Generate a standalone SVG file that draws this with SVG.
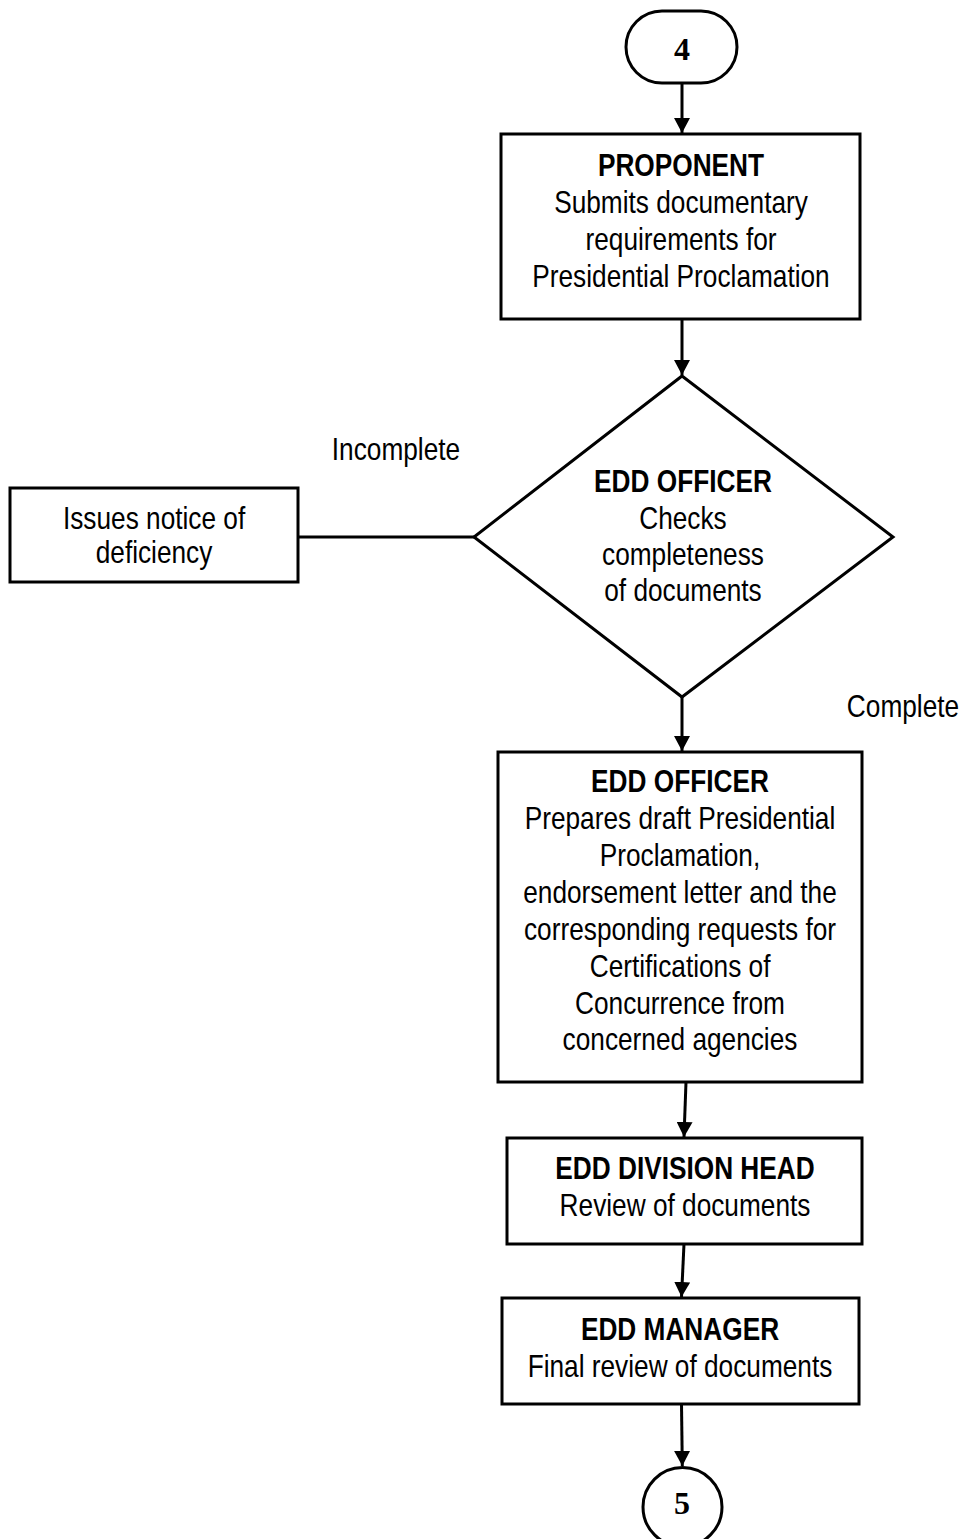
<svg xmlns="http://www.w3.org/2000/svg" width="964" height="1539" viewBox="0 0 964 1539">
  <style>
    .shape { fill: #fff; stroke: #000; stroke-width: 3; }
    .wire { fill: none; stroke: #000; stroke-width: 3; }
    text { font-family: 'Liberation Sans', Arial, sans-serif; font-size: 32px; fill: #000; text-anchor: middle; }
    /* narrow sans: squeeze each line horizontally about its own centre */
    .t { transform-box: fill-box; transform-origin: center; transform: scaleX(0.82); }
    .b { font-weight: bold; }
    .num { font-family: 'Liberation Serif', 'Times New Roman', serif; font-weight: bold; }
  </style>
  <defs>
    <marker id="arrow" markerUnits="userSpaceOnUse" markerWidth="16" markerHeight="16" refX="15" refY="8" orient="auto">
      <path d="M0,0 L15,8 L0,16 z" fill="#000"/>
    </marker>
  </defs>

  <g id="connectors">
    <line class="wire" x1="682" y1="83" x2="682" y2="133" marker-end="url(#arrow)"/>
    <line class="wire" x1="682" y1="319" x2="682" y2="375" marker-end="url(#arrow)"/>
    <line class="wire" x1="298" y1="537" x2="474" y2="537"/>
    <line class="wire" x1="682" y1="697" x2="682" y2="751" marker-end="url(#arrow)"/>
    <line class="wire" x1="686" y1="1082" x2="684" y2="1137" marker-end="url(#arrow)"/>
    <line class="wire" x1="684" y1="1244" x2="681.5" y2="1297" marker-end="url(#arrow)"/>
    <line class="wire" x1="681.5" y1="1404" x2="682.3" y2="1466" marker-end="url(#arrow)"/>
  </g>

  <g id="start-4">
    <rect class="shape" x="626" y="11" width="111" height="72" rx="36" ry="36"/>
    <text class="num" x="682" y="60" font-size="35">4</text>
  </g>

  <g id="proponent">
    <rect class="shape" x="501" y="134" width="359" height="185"/>
    <text class="t b" x="681" y="176">PROPONENT</text>
    <text class="t" x="681" y="213">Submits documentary</text>
    <text class="t" x="681" y="250">requirements for</text>
    <text class="t" x="681" y="287">Presidential Proclamation</text>
  </g>

  <g id="check-decision">
    <polygon class="shape" points="682,376 893,537 682,697 474,537"/>
    <text class="t b" x="683" y="492">EDD OFFICER</text>
    <text class="t" x="683" y="529">Checks</text>
    <text class="t" x="683" y="565">completeness</text>
    <text class="t" x="683" y="601">of documents</text>
  </g>

  <g id="labels">
    <text class="t" x="396" y="460">Incomplete</text>
    <text class="t" x="903" y="717">Complete</text>
  </g>

  <g id="deficiency">
    <rect class="shape" x="10" y="488" width="288" height="94"/>
    <text class="t" x="154" y="529">Issues notice of</text>
    <text class="t" x="154" y="563">deficiency</text>
  </g>

  <g id="draft">
    <rect class="shape" x="498" y="752" width="364" height="330"/>
    <text class="t b" x="680" y="792">EDD OFFICER</text>
    <text class="t" x="680" y="829">Prepares draft Presidential</text>
    <text class="t" x="680" y="866">Proclamation,</text>
    <text class="t" x="680" y="903">endorsement letter and the</text>
    <text class="t" x="680" y="940">corresponding requests for</text>
    <text class="t" x="680" y="977">Certifications of</text>
    <text class="t" x="680" y="1014">Concurrence from</text>
    <text class="t" x="680" y="1050">concerned agencies</text>
  </g>

  <g id="division-head">
    <rect class="shape" x="507" y="1138" width="355" height="106"/>
    <text class="t b" x="685" y="1179">EDD DIVISION HEAD</text>
    <text class="t" x="685" y="1216">Review of documents</text>
  </g>

  <g id="manager">
    <rect class="shape" x="502" y="1298" width="357" height="106"/>
    <text class="t b" x="680" y="1340">EDD MANAGER</text>
    <text class="t" x="680" y="1377">Final review of documents</text>
  </g>

  <g id="end-5">
    <circle class="shape" cx="682.5" cy="1507" r="39.5"/>
    <text class="num" x="682" y="1514" font-size="29">5</text>
  </g>
</svg>
